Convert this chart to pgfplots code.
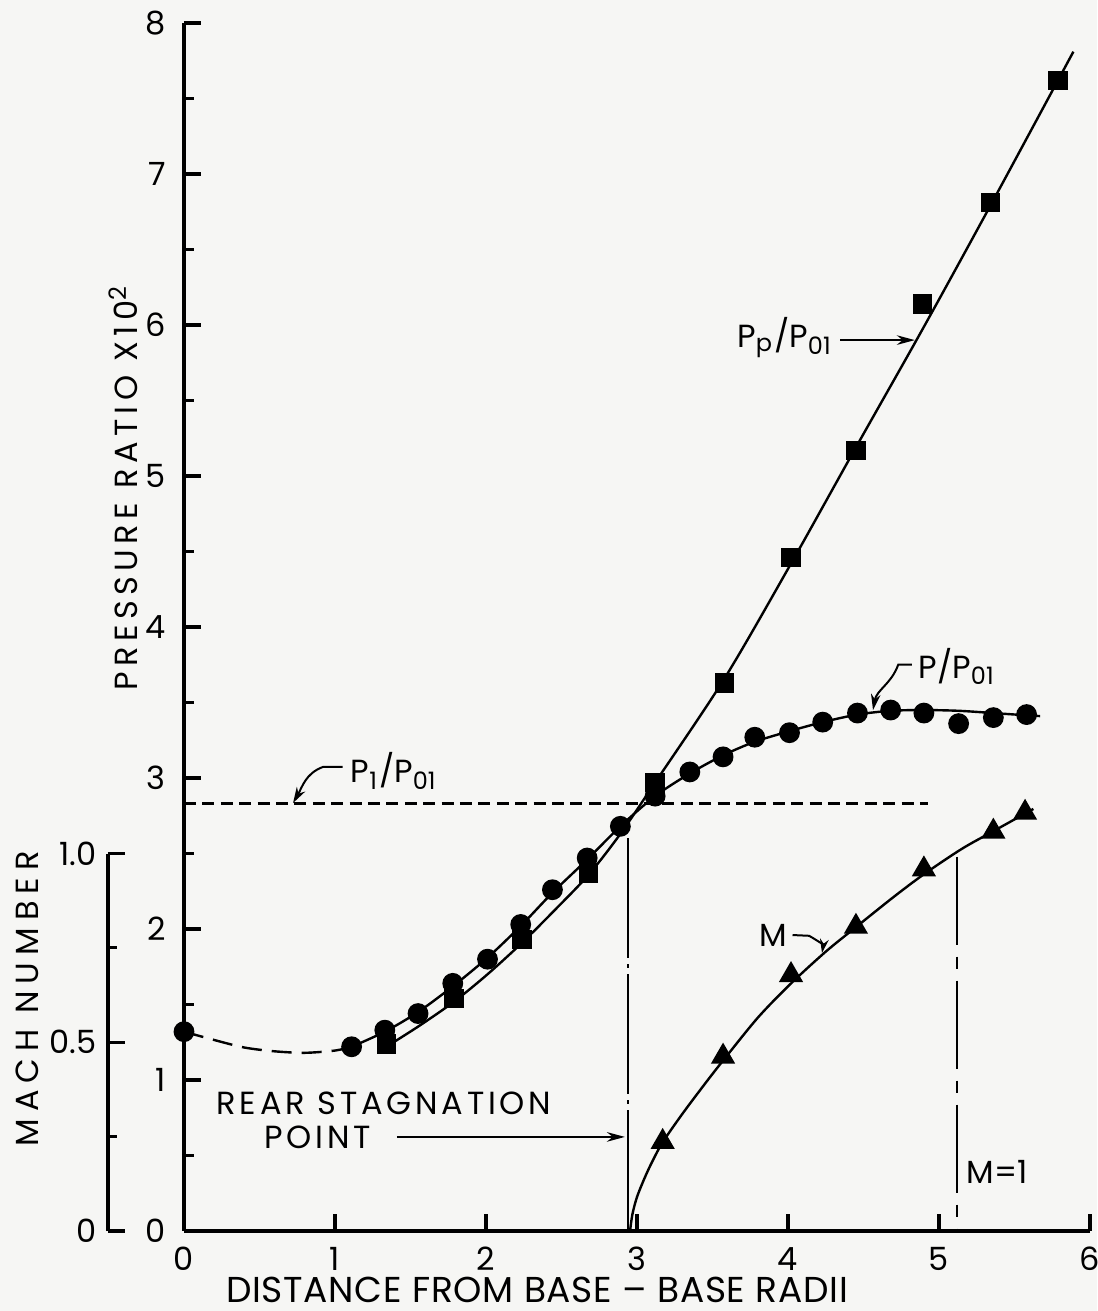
\documentclass[border=0pt]{standalone}
\usepackage{fontspec}
\setmainfont{Poppins}
\usepackage{pgfplots}
\usepackage{pgfplotstable}
\pgfplotsset{compat=1.18}
\usetikzlibrary{arrows.meta}
\definecolor{bgc}{RGB}{246,246,244}
\newcommand{\ls}[1]{\addfontfeatures{LetterSpace=#1}}

% P/P01 measured (circles)
\pgfplotstableread{
x y
0 1.32
1.11 1.22
1.33 1.33
1.55 1.44
1.78 1.64
2.01 1.80
2.23 2.03
2.44 2.26
2.67 2.47
2.89 2.68
3.12 2.88
3.35 3.04
3.57 3.14
3.78 3.27
4.01 3.30
4.23 3.37
4.46 3.43
4.68 3.45
4.90 3.43
5.13 3.36
5.36 3.40
5.58 3.42
}\circdata
% P/P01 faired curve (solid part)
\pgfplotstableread{
x y
1.11 1.22
1.33 1.32
1.55 1.45
1.78 1.62
2.01 1.81
2.23 2.02
2.44 2.24
2.67 2.46
2.89 2.68
3.12 2.88
3.35 3.03
3.57 3.15
3.78 3.24
4.01 3.31
4.23 3.37
4.46 3.42
4.68 3.445
4.90 3.45
5.13 3.445
5.36 3.43
5.58 3.415
5.67 3.41
}\circcurve
% P/P01 faired curve (dashed part)
\pgfplotstableread{
x y
0 1.32
0.2 1.265
0.4 1.215
0.6 1.19
0.8 1.18
1.0 1.195
1.11 1.22
}\circdash
% Pp/P01 measured (squares)
\pgfplotstableread{
x y
1.34 1.24
1.79 1.54
2.24 1.93
2.68 2.37
3.12 2.97
3.58 3.63
4.02 4.46
4.45 5.17
4.89 6.14
5.34 6.81
5.79 7.62
}\sqdata
% Pp/P01 faired curve
\pgfplotstableread{
x y
1.34 1.22
1.56 1.36
1.79 1.52
2.01 1.70
2.24 1.91
2.46 2.13
2.68 2.36
2.89 2.63
3.12 2.97
3.58 3.66
4.02 4.42
4.45 5.19
4.89 5.97
5.34 6.79
5.89 7.81
}\sqcurve
% Mach number measured (triangles)
\pgfplotstableread{
x M
3.17 0.236
3.57 0.462
4.02 0.678
4.45 0.806
4.90 0.958
5.36 1.058
5.57 1.108
}\tridata
% Mach number faired curve
\pgfplotstableread{
x M
2.954 0.0
2.97 0.045
3.00 0.09
3.05 0.14
3.10 0.183
3.17 0.235
3.30 0.31
3.45 0.39
3.567 0.45
3.80 0.565
4.018 0.655
4.25 0.74
4.45 0.805
4.70 0.885
4.90 0.945
5.15 1.012
5.355 1.058
5.625 1.118
}\tricurve

\begin{document}
\fontsize{8}{9.6}\selectfont
\begin{tikzpicture}[font=\fontsize{8}{9.6}\selectfont]
\fill[bgc] (-46pt,-20pt) rectangle (228.25pt,307.75pt);
\useasboundingbox (-46pt,-20pt) rectangle (228.25pt,307.75pt);

% ---------- Mach number axis ----------
\begin{axis}[
  at={(-19pt,0pt)}, anchor=south west,
  scale only axis, x=37.75pt, y=94.375pt,
  xmin=-0.5033, xmax=6, ymin=0, ymax=1,
  hide x axis, axis y line*=left,
  axis line style={-, line width=0.8pt},
  ytick={0,0.5,1}, yticklabels={0,0.5,1.0},
  minor ytick={0.25,0.75},
  tick align=inside,
  major tick length=4.25pt, minor tick length=2.3pt,
  every tick/.style={black, line width=0.8pt},
  ylabel={\ls{22}MACH NUMBER},
  every axis y label/.style={at={(axis description cs:-0.0825,0.615)}, rotate=90, anchor=center},
  clip=false,
]
\addplot[black, line width=0.6pt, smooth, no marks] table[x=x, y=M] {\tricurve};
\addplot[only marks, mark=triangle*, mark size=3.1pt, black, fill=black] table[x=x, y=M] {\tridata};
\end{axis}

% ---------- Pressure ratio axis ----------
\begin{axis}[
  at={(0pt,0pt)}, anchor=south west,
  scale only axis, x=37.75pt, y=37.75pt,
  xmin=0, xmax=6, ymin=0, ymax=8,
  axis x line*=bottom, axis y line*=left,
  axis line style={-, line width=0.8pt},
  xtick={0,1,2,3,4,5,6}, ytick={0,1,2,3,4,5,6,7,8},
  minor ytick={0.5,1.5,2.5,3.5,4.5,5.5,6.5,7.5},
  tick align=inside,
  major tick length=4.25pt, minor tick length=2.6pt,
  every tick/.style={black, line width=0.8pt},
  /pgf/number format/assume math mode=true,
  xticklabel style={yshift=-1.2pt},
  yticklabel style={xshift=-1.7pt},
  xlabel={\ls{2}DISTANCE FROM BASE -- BASE RADII},
  ylabel={\ls{17}PRESSURE RATIO X10\textsuperscript{2}},
  every axis x label/.style={at={(axis description cs:0.3897,-0.0485)}, anchor=center, font=\fontsize{9}{10}\selectfont},
  every axis y label/.style={at={(axis description cs:-0.0673,0.6155)}, rotate=90, anchor=center},
  clip=false,
]
% reference lines
\addplot[black, line width=0.6pt, dash pattern=on 3pt off 1.6pt] coordinates {(0,2.83) (4.93,2.83)};
\addplot[black, line width=0.5pt, dash pattern=on 30pt off 1.5pt on 1pt off 1.5pt] coordinates {(2.94,2.60) (2.94,0)};
\addplot[black, line width=0.5pt, dash pattern=on 22pt off 3pt on 3pt off 3pt] coordinates {(5.12,2.48) (5.12,0)};
% faired curves
\addplot[black, line width=0.6pt, dash pattern=on 5pt off 2.5pt, smooth, no marks] table {\circdash};
\addplot[black, line width=0.6pt, smooth, no marks] table {\circcurve};
\addplot[black, line width=0.6pt, smooth, no marks] table {\sqcurve};
% data
\addplot[only marks, mark=*, mark size=2.4pt, black, fill=black] table {\circdata};
\addplot[only marks, mark=square*, mark size=2.25pt, black, fill=black] table {\sqdata};

% annotations
\node[anchor=base west, inner sep=0pt] at (axis cs:1.10,2.967) {P\textsubscript{1}/P\textsubscript{01}};
\draw[line width=0.5pt, -{Stealth[length=4pt,width=2.4pt]}] (axis cs:1.05,3.073) -- (axis cs:0.92,3.073) to[out=200,in=60] (axis cs:0.722,2.834);

\node[anchor=base west, inner sep=0pt] at (axis cs:3.66,5.85) {P\textsubscript{p}/P\textsubscript{01}};
\draw[line width=0.5pt, -{Stealth[length=4.5pt,width=2.4pt]}] (axis cs:4.345,5.90) -- (axis cs:4.84,5.90);

\node[anchor=base west, inner sep=0pt] at (axis cs:4.86,3.66) {P/P\textsubscript{01}};
\draw[line width=0.5pt, -{Stealth[length=4pt,width=2.4pt]}] (axis cs:4.82,3.75) -- (axis cs:4.73,3.75) to[out=250,in=80] (axis cs:4.563,3.45);

\node[anchor=center, inner sep=0pt] at (axis cs:3.90,1.96) {M};
\draw[line width=0.5pt, -{Stealth[length=3.5pt,width=2.2pt]}] (axis cs:4.03,1.96) -- (axis cs:4.14,1.955) to[out=-30,in=80] (axis cs:4.225,1.841);

\node[anchor=center, inner sep=0pt] at (axis cs:1.325,0.848) {\ls{12}REAR\ STAGNATION};
\node[anchor=center, inner sep=0pt] at (axis cs:0.887,0.623) {\ls{12}POINT};
\draw[line width=0.5pt, -{Stealth[length=4.5pt,width=2.4pt]}] (axis cs:1.41,0.623) -- (axis cs:2.92,0.623);

\node[anchor=west, inner sep=0pt] at (axis cs:5.18,0.39) {M=1};
\end{axis}
\end{tikzpicture}
\end{document}
